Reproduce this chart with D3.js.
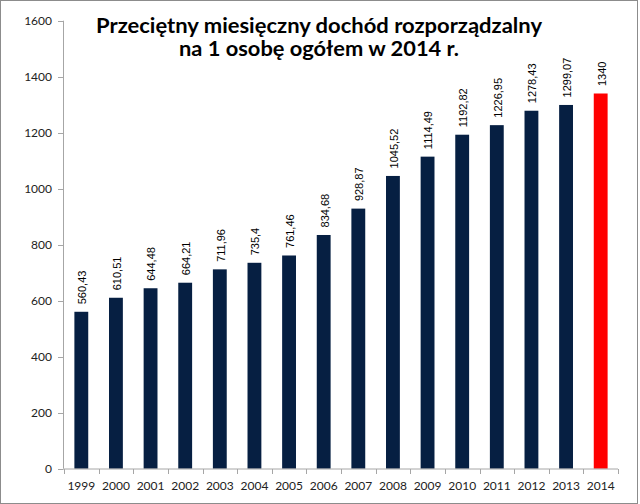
<!DOCTYPE html>
<html><head><meta charset="utf-8">
<script src="https://cdn.jsdelivr.net/npm/d3@7"></script>
<style>body{margin:0;background:#fff}</style>
</head><body>
<svg id="c" width="640" height="504"></svg>
<script>
const years = ["1999","2000","2001","2002","2003","2004","2005","2006","2007","2008","2009","2010","2011","2012","2013","2014"];
const values = [560.43,610.51,644.48,664.21,711.96,735.4,761.46,834.68,928.87,1045.52,1114.49,1192.82,1226.95,1278.43,1299.07,1340];
const labels = ["560,43","610,51","644,48","664,21","711,96","735,4","761,46","834,68","928,87","1045,52","1114,49","1192,82","1226,95","1278,43","1299,07","1340"];
const yTicks = [0,200,400,600,800,1000,1200,1400,1600];
const titleLines = ["Przeciętny miesięczny dochód rozporządzalny","na 1 osobę ogółem w 2014 r."];
const titleWidths = [446,280];

const svg = d3.select("#c");
svg.append("rect").attr("x",0.5).attr("y",0.5).attr("width",637).attr("height",503)
  .attr("fill","#fff").attr("stroke","#8c8c8c");

const x = d3.scaleBand().domain(years).range([64,618]).paddingInner(0.6).paddingOuter(0.3);
const y = d3.scaleLinear().domain([0,1600]).range([468.7,20.7]);
const axisColor = "#a6a6a6";

// y axis
svg.append("line").attr("x1",63.5).attr("x2",63.5).attr("y1",y(1600)).attr("y2",y(0)).attr("stroke",axisColor);
svg.selectAll(".yt").data(yTicks).enter().append("line")
  .attr("x1",58).attr("x2",63.5).attr("y1",d=>Math.round(y(d))+0.5).attr("y2",d=>Math.round(y(d))+0.5).attr("stroke",axisColor);
svg.selectAll(".yl").data(yTicks).enter().append("text")
  .attr("x",52).attr("y",d=>y(d)).attr("dy","0.35em").attr("text-anchor","end")
  .attr("font-family","Lato, sans-serif").attr("font-size",12).attr("fill","#222").text(d=>d);

// bars
svg.selectAll(".bar").data(values).enter().append("rect")
  .attr("x",(d,i)=>x(years[i])).attr("width",x.bandwidth())
  .attr("y",d=>y(d)).attr("height",d=>y(0)-y(d))
  .attr("fill",(d,i)=>i===years.length-1?"#ff0000":"#061f42");

// data labels
svg.selectAll(".dl").data(values).enter().append("text")
  .attr("transform",(d,i)=>`translate(${x(years[i])+x.bandwidth()/2+1},${y(d)-7.5}) rotate(-90)`)
  .attr("dy","0.35em").attr("text-anchor","start")
  .attr("font-family","'Liberation Sans', Arial, sans-serif").attr("font-size",11).attr("fill","#000")
  .text((d,i)=>labels[i]);

// x axis
svg.append("line").attr("x1",63.5).attr("x2",618).attr("y1",469).attr("y2",469).attr("stroke",axisColor);
const bounds = years.map(d=>x(d)-x.step()*x.paddingInner()/2).concat([618]);
svg.selectAll(".xt").data(bounds).enter().append("line")
  .attr("x1",d=>Math.round(d)+0.5).attr("x2",d=>Math.round(d)+0.5).attr("y1",469).attr("y2",474).attr("stroke",axisColor);
svg.selectAll(".xl").data(years).enter().append("text")
  .attr("x",d=>x(d)+x.bandwidth()/2).attr("y",490).attr("text-anchor","middle")
  .attr("font-family","Lato, sans-serif").attr("font-size",12).attr("fill","#222").text(d=>d);

// title
svg.selectAll(".tt").data(titleLines).enter().append("text")
  .attr("x",319).attr("y",(d,i)=>33.3+i*22.4).attr("text-anchor","middle")
  .attr("font-family","Lato, sans-serif").attr("font-weight","bold").attr("font-size",21)
  .attr("textLength",(d,i)=>titleWidths[i]).attr("lengthAdjust","spacingAndGlyphs")
  .attr("fill","#000").text(d=>d);
</script>
</body></html>
